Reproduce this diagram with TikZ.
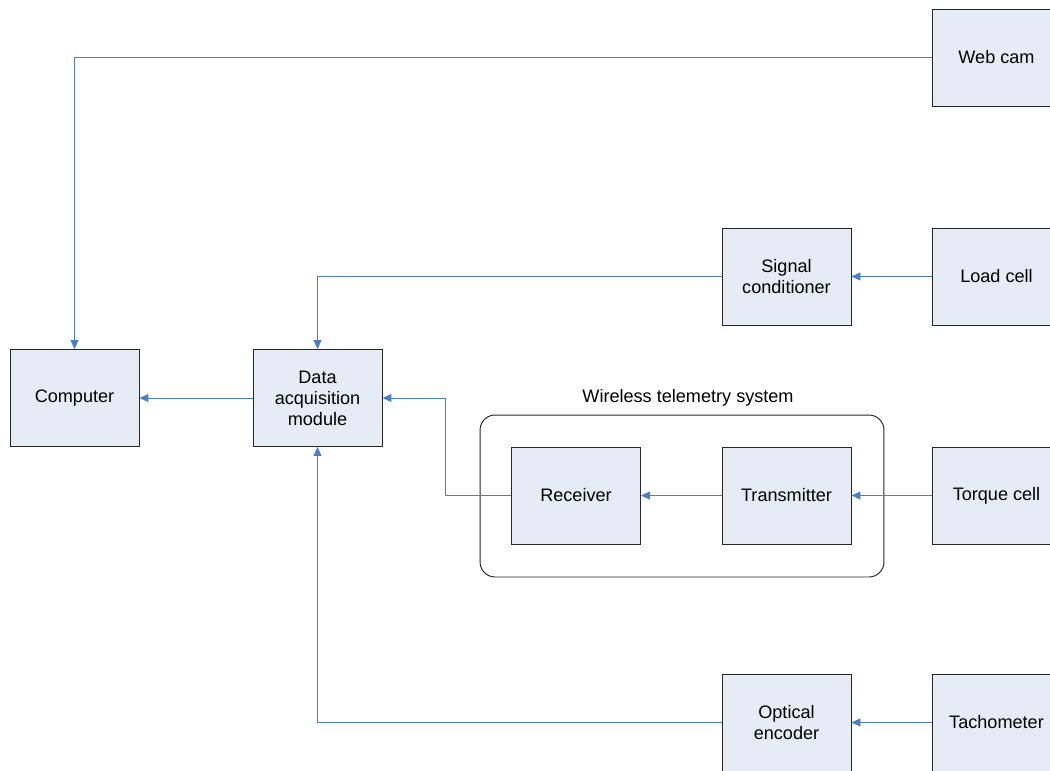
\documentclass[tikz,border=0pt]{standalone}
\usepackage{fontspec}
\setmainfont{Liberation Sans}
\usetikzlibrary{arrows.meta}
\definecolor{boxfill}{HTML}{E6ECF6}
\definecolor{linkblue}{HTML}{4A7EC8}
\begin{document}
\begin{tikzpicture}[x=0.02cm,y=-0.02cm,
	block/.style={draw=black!85,line width=0.55pt,fill=boxfill,rectangle,
		minimum width=2.58cm,minimum height=1.94cm,inner sep=0pt,
		align=center,font=\fontsize{10.3}{12}\selectfont},
	group/.style={draw=black!85,line width=0.55pt,rounded corners=0.3cm,
		minimum width=8.08cm,minimum height=3.24cm,inner sep=0pt},
	link/.style={draw=linkblue,line width=0.55pt,
		-{Triangle[length=0.18cm,width=0.16cm]}}
	]
	% page is 1050 x 770, blocks on the right run off the edge
	\clip (0,0) rectangle (1050,770);
	\node[group] (wts) at (682,496) {};
	\node[font=\fontsize{10.3}{12}\selectfont] (wtslabel) at (688,398) {Wireless telemetry system};

	\node[block] (webcam)      at (996.5,57.5)  {Web cam};
	\node[block] (signal)      at (786.5,276.5) {Signal\\conditioner};
	\node[block] (loadcell)    at (996.5,276.5) {Load cell};
	\node[block] (computer)    at (74.5,398)    {Computer};
	\node[block] (daq)         at (317.5,398)   {Data\\acquisition\\module};
	\node[block] (receiver)    at (576,495.5)   {Receiver};
	\node[block] (transmitter) at (786.5,495.5) {Transmitter};
	\node[block] (torque)      at (996.5,495.5) {Torque cell};
	\node[block] (encoder)     at (786.5,722.5) {Optical\\encoder};
	\node[block] (tacho)       at (996.5,722.5) {Tachometer};

	\draw[link] (webcam.west) -| (computer.north);
	\draw[link] (loadcell.west) -- (signal.east);
	\draw[link] (signal.west) -| (daq.north);
	\draw[link] (daq.west) -- (computer.east);
	\draw[link] (torque.west) -- (transmitter.east);
	\draw[link] (transmitter.west) -- (receiver.east);
	\draw[link] (receiver.west) -- ++(-66,0) |- (daq.east);
	\draw[link] (tacho.west) -- (encoder.east);
	\draw[link] (encoder.west) -| (daq.south);
\end{tikzpicture}
\end{document}
